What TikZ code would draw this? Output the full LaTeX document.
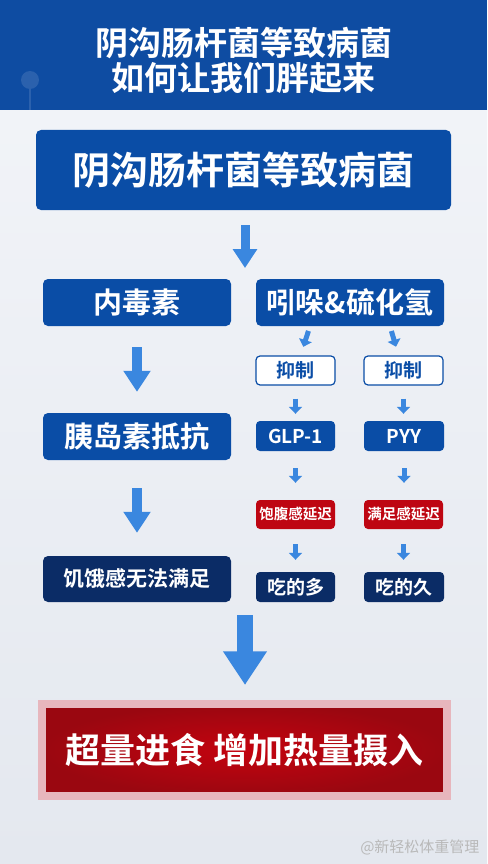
\documentclass[tikz,border=0pt]{standalone}
\usepackage{fontspec}
\setmainfont{Noto Sans CJK SC}[BoldFont={Noto Sans CJK SC Bold}]
\usetikzlibrary{arrows.meta}
\definecolor{headblue}{HTML}{0E4CA2}
\definecolor{boxblue}{HTML}{0A4DA6}
\definecolor{navy}{HTML}{0B2C66}
\definecolor{arrowblue}{HTML}{3A87DF}
\definecolor{tagred}{HTML}{BE0612}
\definecolor{deepred}{HTML}{C4030F}
\definecolor{darkred}{HTML}{9A0710}
\definecolor{pinkrim}{HTML}{E7B6BD}
\definecolor{bgtop}{HTML}{F3F5F9}
\definecolor{bgbottom}{HTML}{E4E8EF}
\newcommand{\fs}[1]{\fontsize{#1pt}{#1pt}\selectfont\bfseries}

\begin{document}
\begin{tikzpicture}[x=1pt, y=-1pt,
    box/.style={rounded corners=5pt, align=center, inner sep=0pt, text=white},
    bluebox/.style={box, fill=boxblue},
    navybox/.style={box, fill=navy},
    outlinebox/.style={box, rounded corners=4pt, fill=white, draw=boxblue, line width=1.2pt, text=boxblue},
    redtag/.style={box, rounded corners=4pt, fill=tagred},
    wide/.style={minimum width=188pt, minimum height=47pt},
    narrow/.style={minimum width=79pt, minimum height=30pt},
    bigarrow/.style={draw=arrowblue, line width=#1, -{Triangle[width=2.6*#1, length=2.1*#1]}},
    tinyarrow/.style={draw=arrowblue, line width=5pt, -{Triangle[width=13pt, length=7pt]}}]

    \shade[top color=bgtop, bottom color=bgbottom] (0,0) rectangle (487,864);
    \useasboundingbox (0,0) rectangle (487,864);
    \fill[headblue] (0,0) rectangle (487,110);
    \fill[white, opacity=0.12] (30,80) circle (9pt);
    \draw[white, opacity=0.12, line width=2pt] (30,89) -- (30,110);
    \node[text=white, align=center, font=\fontsize{33pt}{35pt}\selectfont\bfseries] (title) at (243.5,60.5) {阴沟肠杆菌等致病菌\\如何让我们胖起来};

    \node[bluebox, minimum width=415pt, minimum height=80pt, font=\fs{38}] (cause) at (243.5,170) {阴沟肠杆菌等致病菌};

    \node[bluebox, wide, font=\fs{29}] (endo) at (137,302.5) {内毒素};
    \node[bluebox, wide, font=\fs{29}] (indole) at (350,302.5) {吲哚\&硫化氢};
    \coordinate (split) at (245,279);

    \node[outlinebox, narrow, minimum height=29pt, font=\fs{19}] (inhA) at (295.5,370.5) {抑制};
    \node[outlinebox, narrow, minimum height=29pt, font=\fs{19}] (inhB) at (403.5,370.5) {抑制};

    \node[bluebox, wide, font=\fs{29}] (insulin) at (137,436.5) {胰岛素抵抗};
    \node[bluebox, narrow, rounded corners=4pt, font=\fs{19}] (glp) at (295.5,436) {GLP-1};
    \node[bluebox, narrow, rounded corners=4pt, minimum width=80pt, font=\fs{19}] (pyy) at (404,436) {PYY};

    \node[redtag, narrow, minimum height=29pt, font=\fs{14.5}] (fullA) at (295.5,514.5) {饱腹感延迟};
    \node[redtag, narrow, minimum height=29pt, font=\fs{14.5}] (fullB) at (403.5,514.5) {满足感延迟};

    \node[navybox, wide, minimum height=46pt, font=\fs{21}] (hunger) at (137,579) {饥饿感无法满足};
    \node[navybox, narrow, rounded corners=4pt, font=\fs{19}] (eatmore) at (295.5,587) {吃的多};
    \node[navybox, narrow, rounded corners=4pt, minimum width=80pt, font=\fs{19}] (eatlong) at (404,587) {吃的久};
    \coordinate (merge) at (245,602);

    \node[minimum width=405pt, minimum height=92pt, inner sep=0pt, draw=pinkrim, line width=8pt,
        inner color=deepred, outer color=darkred, text=white, font=\fs{35}] (final) at (244.5,750) {超量进食 增加热量摄入};

    \node[text=gray!55, font=\fontsize{15pt}{15pt}\selectfont, anchor=east] (mark) at (483,847) {@新轻松体重管理};

    \draw[bigarrow=9pt, shorten <=15pt, shorten >=11pt] (cause.south -| split) -- (split);
    \draw[bigarrow=10pt, shorten <=21pt, shorten >=21pt] (endo) -- (insulin);
    \draw[bigarrow=10pt, shorten <=28pt, shorten >=23pt] (insulin) -- (hunger);
    \draw[bigarrow=16pt, shorten <=13pt, shorten >=15pt] (merge) -- (merge |- final.north);

    \draw[tinyarrow, shorten <=5pt, shorten >=9pt] ([xshift=-40pt]indole.south) -- ([xshift=5pt]inhA.north);
    \draw[tinyarrow, shorten <=5pt, shorten >=9pt] ([xshift=40pt]indole.south) -- ([xshift=-5pt]inhB.north);
    \draw[tinyarrow, shorten <=13pt, shorten >=7pt] (inhA) -- (glp);
    \draw[tinyarrow, shorten <=13pt, shorten >=7pt] (inhB.south) -- (inhB.south |- pyy.north);
    \draw[tinyarrow, shorten <=17pt, shorten >=17pt] (glp) -- (fullA);
    \draw[tinyarrow, shorten <=17pt, shorten >=17pt] (pyy.south) -- (pyy.south |- fullB.north);
    \draw[tinyarrow, shorten <=15pt, shorten >=12pt] (fullA) -- (eatmore);
    \draw[tinyarrow, shorten <=15pt, shorten >=12pt] (fullB.south) -- (fullB.south |- eatlong.north);
\end{tikzpicture}
\end{document}
